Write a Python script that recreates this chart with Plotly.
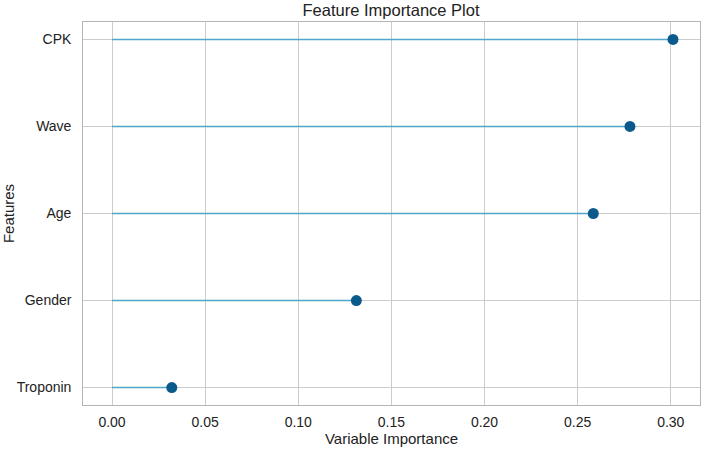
import plotly.graph_objects as go

features = ["Troponin", "Gender", "Age", "Wave", "CPK"]
importance = [0.0321, 0.1312, 0.2584, 0.2781, 0.3012]
x_ticks = [0.00, 0.05, 0.10, 0.15, 0.20, 0.25, 0.30]
x_tick_labels = ["0.00", "0.05", "0.10", "0.15", "0.20", "0.25", "0.30"]

fig = go.Figure()
lx, ly = [], []
for f, v in zip(features, importance):
    lx += [0, v, None]
    ly += [f, f, None]
fig.add_trace(go.Scatter(x=lx, y=ly, mode="lines",
                         line=dict(color="#52a6cb", width=1.5),
                         hoverinfo="skip", showlegend=False))
fig.add_trace(go.Scatter(x=importance, y=features, mode="markers",
                         marker=dict(color="#0b5a8c", size=11),
                         showlegend=False))

fig.update_layout(
    width=702, height=450,
    margin=dict(l=83, r=2, t=22, b=45),
    paper_bgcolor="white", plot_bgcolor="white",
    font=dict(family="Liberation Sans, Arial, sans-serif", size=14, color="#222"),
    title=dict(text="Feature Importance Plot", x=0.557, xanchor="center",
               y=0.977, yanchor="middle", font=dict(size=16.5, color="#222")),
)
fig.update_xaxes(range=[-0.01557, 0.3157], tickvals=x_ticks, ticktext=x_tick_labels,
                 showgrid=True, gridcolor="#cccccc", gridwidth=1,
                 showline=True, linecolor="#b5b5b5", mirror=True, zeroline=False,
                 ticks="", ticklen=0, ticklabelstandoff=4, automargin=False,
                 title=dict(text="Variable Importance", standoff=2, font=dict(size=15)))
fig.update_yaxes(type="category", categoryorder="array", categoryarray=features,
                 range=[-0.2, 4.2], automargin=False,
                 showgrid=True, gridcolor="#cccccc", gridwidth=1,
                 showline=True, linecolor="#b5b5b5", mirror=True, zeroline=False,
                 ticks="", ticklen=0, ticksuffix="  ",
                 title=dict(text="Features", standoff=8, font=dict(size=15)))

fig.write_html("out.html")
